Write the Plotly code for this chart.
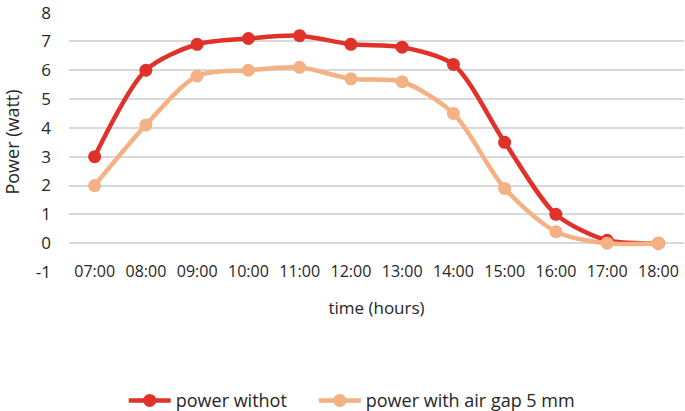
import plotly.graph_objects as go

# hourly readings
hours = ["07:00", "08:00", "09:00", "10:00", "11:00", "12:00",
         "13:00", "14:00", "15:00", "16:00", "17:00", "18:00"]
power_without = [3.0, 6.0, 6.9, 7.1, 7.2, 6.9, 6.8, 6.2, 3.5, 1.0, 0.1, 0.0]
power_air_gap = [2.0, 4.1, 5.8, 6.0, 6.1, 5.7, 5.6, 4.5, 1.9, 0.4, 0.0, 0.0]
y_ticks = [-1, 0, 1, 2, 3, 4, 5, 6, 7, 8]
y_tick_labels = ["-1", "0", "1", "2", "3", "4", "5", "6", "7", "8"]

red = "#E0312A"
peach = "#F4B183"
font_name = "Open Sans, Noto Sans, sans-serif"

fig = go.Figure()

fig.add_trace(go.Scatter(
    x=hours, y=power_without,
    mode="lines+markers",
    name="power withot",
    legend="legend",
    line=dict(color=red, width=4.5, shape="spline", smoothing=0.8),
    marker=dict(color=red, size=13)
))

fig.add_trace(go.Scatter(
    x=hours, y=power_air_gap,
    mode="lines+markers",
    name="power with air gap 5 mm",
    legend="legend2",
    line=dict(color=peach, width=4.5, shape="spline", smoothing=0.8),
    marker=dict(color=peach, size=13)
))

#one legend box per series so the gap between them matches
legend_style = dict(
    orientation="h",
    xanchor="left",
    y=-0.495, yanchor="middle",
    font=dict(size=18),
    itemwidth=42,
    bgcolor="rgba(0,0,0,0)",
)

fig.update_layout(
    width=685, height=411,
    margin=dict(l=69, r=1, t=12, b=139, autoexpand=False),
    plot_bgcolor="white",
    paper_bgcolor="white",
    font=dict(family=font_name, color="#262626"),
    xaxis=dict(
        type="category",
        range=[-0.5, len(hours) - 0.5],
        anchor="free",
        position=0.045,
        showgrid=False,
        showline=False,
        ticks="",
        automargin=False,
        tickfont=dict(size=16, color="#262626"),
        title=dict(text="time (hours)", font=dict(size=17), standoff=20),
    ),
    yaxis=dict(
        range=[-1, 8.02],
        tickvals=y_ticks,
        ticktext=y_tick_labels,
        showgrid=True,
        gridcolor="#D9D9D9",
        gridwidth=1.5,
        zeroline=False,
        showline=False,
        automargin=False,
        ticklabeloverflow="allow",
        ticklabelstandoff=17,
        tickfont=dict(size=17, color="#262626"),
        title=dict(text="Power (watt)", font=dict(size=18), standoff=12),
    ),
    legend=dict(x=0.089, **legend_style),
    legend2=dict(x=0.398, **legend_style),
    showlegend=True,
)

# drop the default page margin so the figure sits at the window's corner
fig.write_html(
    "out.html",
    config=dict(displayModeBar=False),
    post_script="document.body.style.margin='0';",
)
